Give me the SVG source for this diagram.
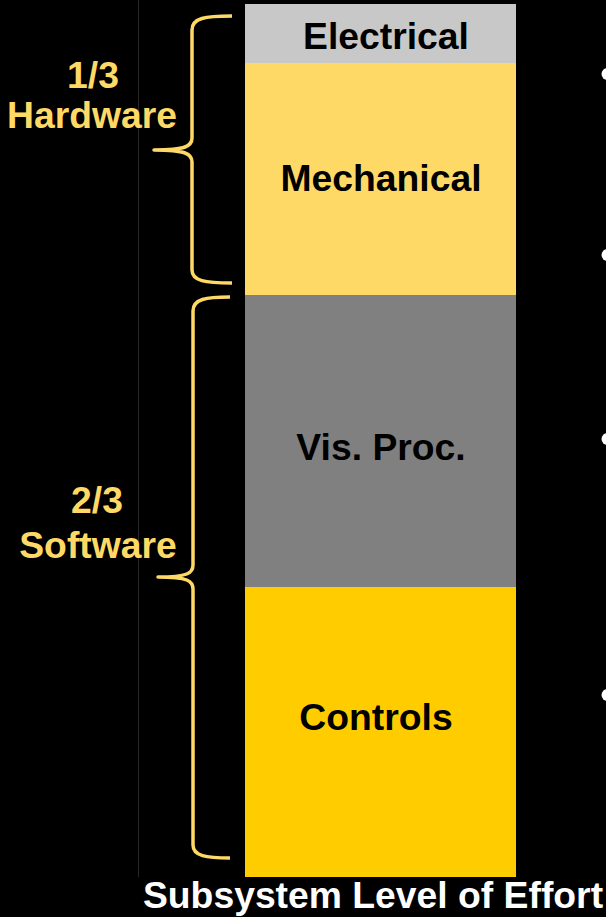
<svg xmlns="http://www.w3.org/2000/svg" width="606" height="917" viewBox="0 0 606 917">
<style>
.t{font-family:"Liberation Sans",Arial,sans-serif;font-weight:bold;font-size:37.3px;text-anchor:middle}
.b{fill:#000}
.y{fill:#ffd966}
.w{fill:#fff}
.br{fill:none;stroke:#ffd966;stroke-width:3.5;stroke-linecap:butt;stroke-linejoin:round}
</style>
<rect x="0" y="0" width="606" height="917" fill="#000"/>
<line x1="138.5" y1="0" x2="138.5" y2="877" stroke="#262626" stroke-width="1"/>
<g id="electrical">
<rect x="245" y="4" width="271" height="59" fill="#c8c8c8"/>
<text class="t b" x="386" y="49">Electrical</text>
</g>
<g id="mechanical">
<rect x="245" y="63" width="271" height="232" fill="#ffd966"/>
<text class="t b" x="381" y="191">Mechanical</text>
</g>
<g id="visproc">
<rect x="245" y="295" width="271" height="292" fill="#808080"/>
<text class="t b" x="381" y="460">Vis. Proc.</text>
</g>
<g id="controls">
<rect x="245" y="587" width="271" height="290" fill="#ffcc00"/>
<text class="t b" x="376" y="730">Controls</text>
</g>
<g id="hardware">
<path class="br" d="M232,16 C205,16 192,18 192,30 L192,138 C192,146 186,150 154,150 C186,150 192,154 192,162 L192,270 C192,281 205,283 232,283"/>
<text class="t y" x="93" y="88">1/3</text>
<text class="t y" x="92" y="128">Hardware</text>
</g>
<g id="software">
<path class="br" d="M230,297 C206,297 193,299 193,311 L193,565 C193,573 188,577 158,577 C188,577 193,581 193,589 L193,845 C193,856 206,858 230,858"/>
<text class="t y" x="97" y="513">2/3</text>
<text class="t y" x="98" y="558">Software</text>
</g>
<g id="bullets" fill="#fff">
<circle cx="607.5" cy="74" r="6"/>
<circle cx="607.5" cy="255" r="6"/>
<circle cx="607.5" cy="439" r="6"/>
<circle cx="607.5" cy="695" r="6"/>
</g>
<g id="connectors"></g>
<text class="t w" x="373" y="908">Subsystem Level of Effort</text>
</svg>
